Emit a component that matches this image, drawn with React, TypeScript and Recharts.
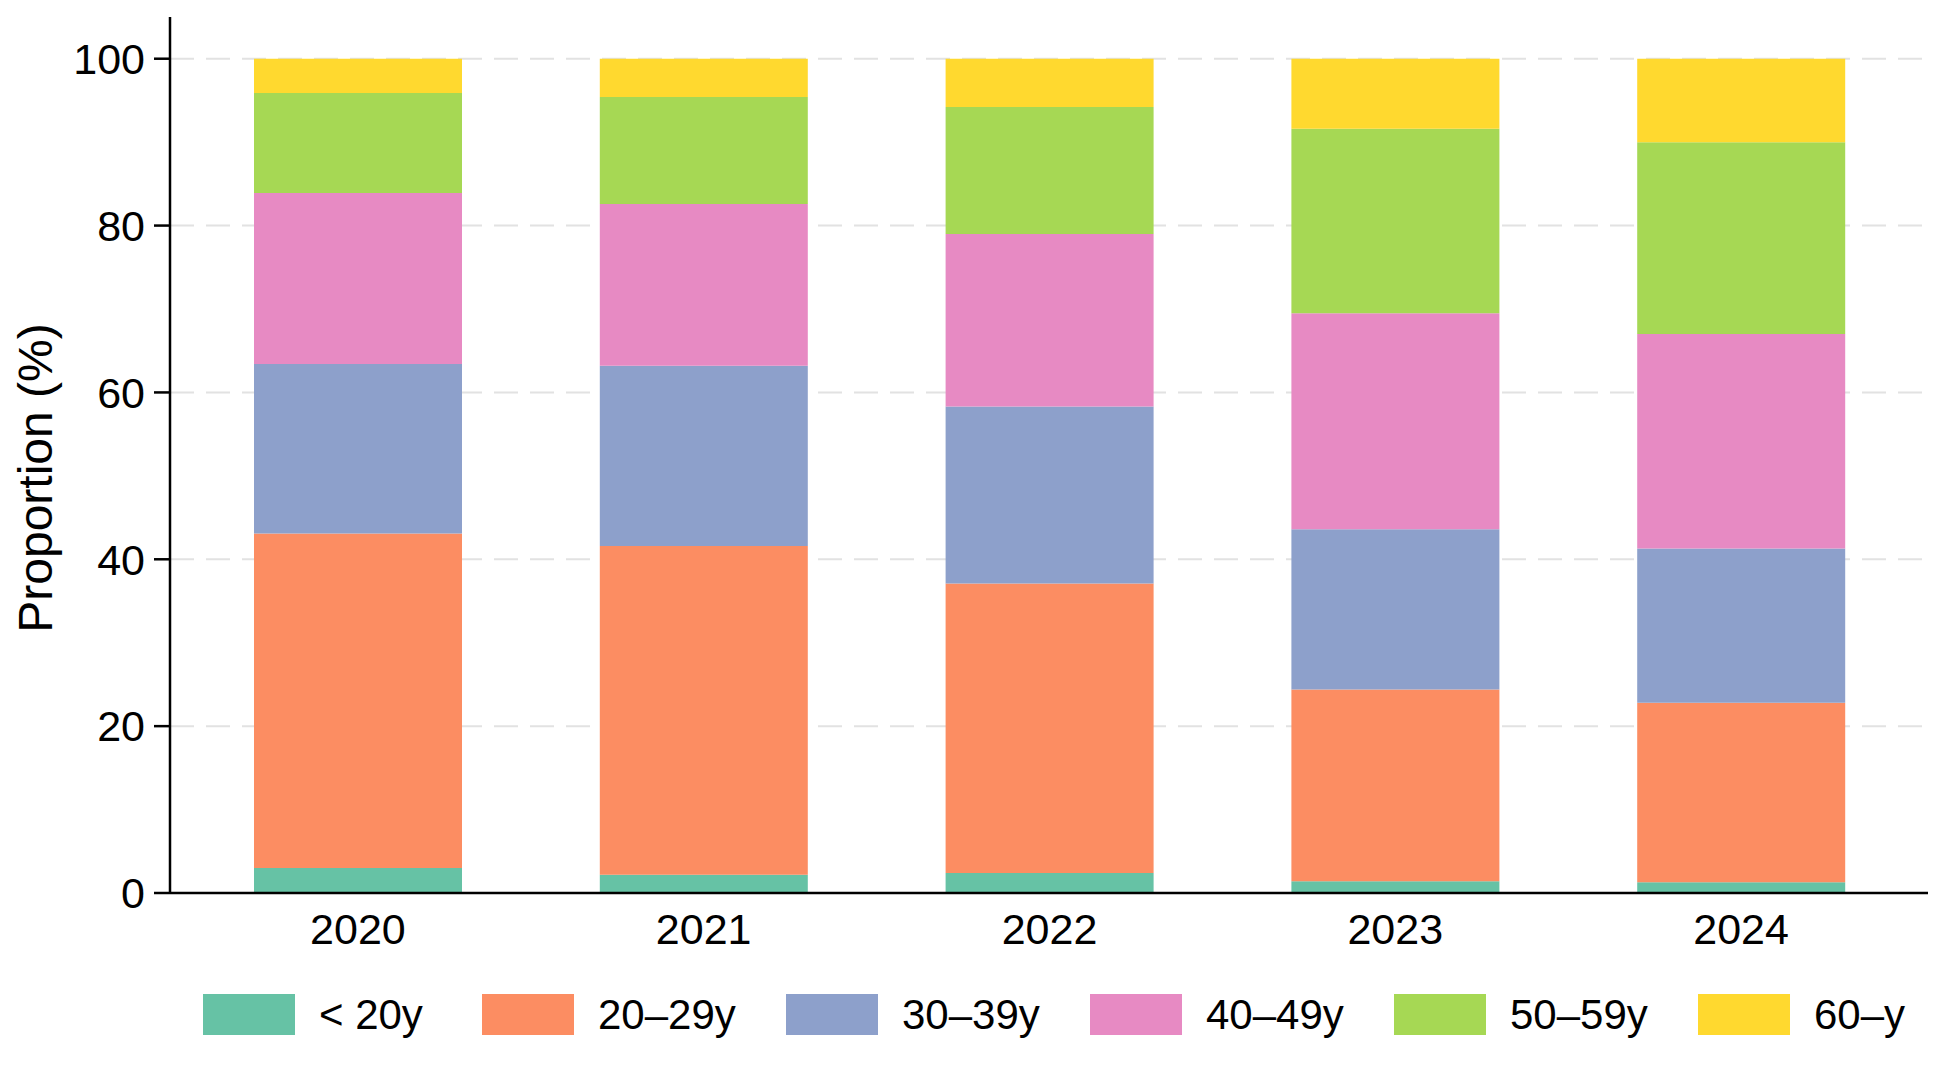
import { Bar, BarChart, CartesianGrid, Legend, XAxis, YAxis } from 'recharts';

const years = ['2020', '2021', '2022', '2023', '2024'];
const under20 = [3.0, 2.2, 2.4, 1.4, 1.3];
const age20to29 = [40.1, 39.4, 34.7, 23.0, 21.5];
const age30to39 = [20.3, 21.6, 21.2, 19.2, 18.5];
const age40to49 = [20.5, 19.4, 20.7, 25.9, 25.7];
const age50to59 = [12.0, 12.8, 15.2, 22.1, 23.0];
const age60plus = [4.1, 4.6, 5.8, 8.4, 10.0];
const yTicks = [0, 20, 40, 60, 80, 100];
const gridValues = [20, 40, 60, 80, 100];

const series = [
  { key: 'u20', name: '< 20y', color: '#66c2a5', values: under20 },
  { key: 'a20', name: '20–29y', color: '#fc8d62', values: age20to29 },
  { key: 'a30', name: '30–39y', color: '#8da0cb', values: age30to39 },
  { key: 'a40', name: '40–49y', color: '#e78ac3', values: age40to49 },
  { key: 'a50', name: '50–59y', color: '#a6d854', values: age50to59 },
  { key: 'a60', name: '60–y', color: '#ffd92f', values: age60plus },
];

const chartData = years.map((year, i) => {
  const row: Record<string, string | number> = { year };
  series.forEach((s) => {
    row[s.key] = s.values[i];
  });
  return row;
});

const font = '"Liberation Sans", Arial, Helvetica, sans-serif';

// legend slots: first label is narrower, the rest sit on an even pitch
const legendSlot = (i: number) => (i === 0 ? 279 : i === series.length - 1 ? undefined : 304);

function LegendContent() {
  return (
    <div style={{ display: 'flex', justifyContent: 'center', alignItems: 'center', height: 55 }}>
      {series.map((s, i) => (
        <div key={s.key} style={{ display: 'flex', alignItems: 'center', width: legendSlot(i) }}>
          <span style={{ display: 'inline-block', width: 92, height: 41, background: s.color, marginRight: 24 }} />
          <span style={{ fontSize: 42, color: '#000', fontFamily: font, lineHeight: '41px', whiteSpace: 'nowrap' }}>
            {s.name}
          </span>
        </div>
      ))}
    </div>
  );
}

function YLabel() {
  return (
    <text
      x={27}
      y={470}
      transform="rotate(-90, 27, 470)"
      textAnchor="middle"
      dominantBaseline="central"
      fontSize={48}
      fontFamily={font}
      fill="#000"
    >
      Proportion (%)
    </text>
  );
}

export default function App() {
  return (
    <div style={{ fontFamily: font }}>
      <BarChart
        width={1934}
        height={1049}
        data={chartData}
        margin={{ top: 9, right: 14, bottom: 104, left: 0 }}
      >
        <CartesianGrid
          vertical={false}
          horizontalValues={gridValues}
          stroke="#e2e2e2"
          strokeWidth={2}
          strokeDasharray="24 12"
        />
        <XAxis
          dataKey="year"
          padding={{ left: 15, right: 14 }}
          height={60}
          tickLine={false}
          tickSize={6}
          tickMargin={14}
          axisLine={{ stroke: '#000', strokeWidth: 2.5 }}
          tick={{ fill: '#000', fontSize: 43, fontFamily: font }}
        />
        <YAxis
          width={162}
          domain={[0, 105]}
          ticks={yTicks}
          tickSize={16}
          tickMargin={9}
          axisLine={{ stroke: '#000', strokeWidth: 2.5 }}
          tickLine={{ stroke: '#000', strokeWidth: 2.5 }}
          tick={{ fill: '#000', fontSize: 43, fontFamily: font }}
          label={<YLabel />}
        />
        <Legend
          layout="horizontal"
          align="center"
          verticalAlign="middle"
          content={<LegendContent />}
          wrapperStyle={{ top: 979, left: 167, width: 1758, height: 55 }}
        />
        {series.map((s) => (
          <Bar
            key={s.key}
            dataKey={s.key}
            name={s.name}
            stackId="age"
            fill={s.color}
            barSize={208}
            isAnimationActive={false}
          />
        ))}
      </BarChart>
    </div>
  );
}
